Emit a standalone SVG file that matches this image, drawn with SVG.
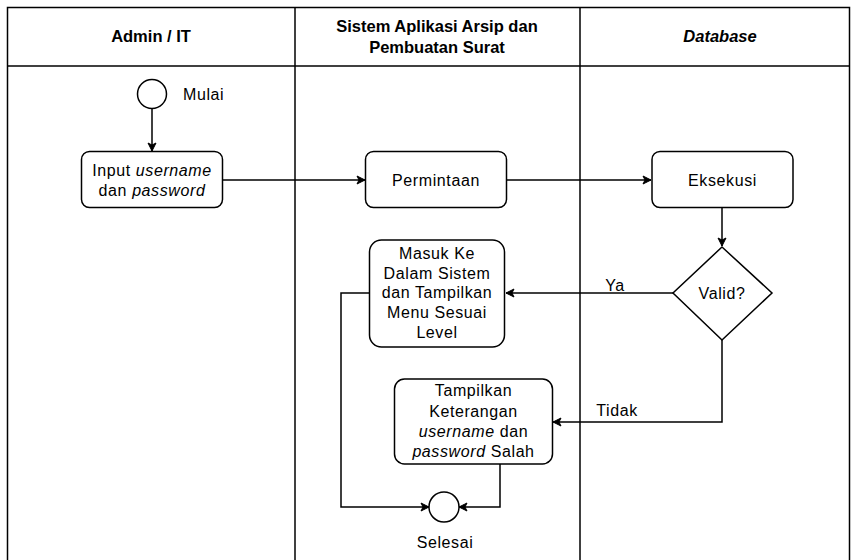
<svg xmlns="http://www.w3.org/2000/svg" width="855" height="560" viewBox="0 0 855 560">
<defs>
<marker id="arr" markerWidth="10" markerHeight="10" refX="9" refY="5" orient="auto" markerUnits="userSpaceOnUse">
<path d="M1,1 L9,5 L1,9 L3,5 z" fill="#000" stroke="#000" stroke-width="1"/>
</marker>
</defs>
<style>
.lane{fill:none;stroke:#000;stroke-width:1.5}
.box{fill:#fff;stroke:#000;stroke-width:1.5}
.edge{fill:none;stroke:#000;stroke-width:1.5}
.t{font-family:"Liberation Sans",Arial,sans-serif;font-size:16px;fill:#000;text-anchor:middle;letter-spacing:0.6px}
.h{font-family:"Liberation Sans",Arial,sans-serif;font-size:16.5px;font-weight:bold;fill:#000;text-anchor:middle}
.i{font-style:italic}
</style>
<rect width="855" height="560" fill="#fff"/>
<g id="lanes">
<rect class="lane" x="7.5" y="7.5" width="842" height="570"/>
<line class="lane" x1="7.5" y1="66" x2="849.5" y2="66"/>
<line class="lane" x1="295" y1="7.5" x2="295" y2="570"/>
<line class="lane" x1="580" y1="7.5" x2="580" y2="570"/>
<text class="h" x="151" y="42">Admin / IT</text>
<text class="h" x="437" y="32">Sistem Aplikasi Arsip dan</text>
<text class="h" x="437" y="53">Pembuatan Surat</text>
<text class="h i" x="720" y="42">Database</text>
</g>
<g id="connectors">
<path class="edge" d="M152,109 L152,151" marker-end="url(#arr)"/>
<path class="edge" d="M223,180 L365,180" marker-end="url(#arr)"/>
<path class="edge" d="M507,180 L651,180" marker-end="url(#arr)"/>
<path class="edge" d="M722,208 L722,246" marker-end="url(#arr)"/>
<path class="edge" d="M673,293 L506,293" marker-end="url(#arr)"/>
<path class="edge" d="M722,340 L722,422 L553,422" marker-end="url(#arr)"/>
<path class="edge" d="M369,293 L341,293 L341,507 L429,507" marker-end="url(#arr)"/>
<path class="edge" d="M500,464 L500,507 L459,507" marker-end="url(#arr)"/>
<text class="t" x="615" y="291">Ya</text>
<text class="t" x="617" y="416">Tidak</text>
</g>
<g id="start">
<circle class="box" cx="152" cy="94" r="14.5"/>
<text class="t" x="183" y="100" style="text-anchor:start">Mulai</text>
</g>
<g id="input">
<rect class="box" x="81.5" y="151.5" width="141" height="56" rx="8"/>
<text class="t" x="152" y="176">Input <tspan class="i">username</tspan></text>
<text class="t" x="152" y="195.5">dan <tspan class="i">password</tspan></text>
</g>
<g id="permintaan">
<rect class="box" x="365.5" y="151.5" width="141" height="56" rx="8"/>
<text class="t" x="436" y="185.5">Permintaan</text>
</g>
<g id="eksekusi">
<rect class="box" x="652" y="151.5" width="141" height="56" rx="8"/>
<text class="t" x="722.5" y="185.5">Eksekusi</text>
</g>
<g id="valid">
<polygon class="box" points="722,247 772,293 722,340 673,293"/>
<text class="t" x="722" y="299">Valid?</text>
</g>
<g id="masuk">
<rect class="box" x="369.5" y="240" width="135" height="107" rx="12"/>
<text class="t" x="437" y="259">Masuk Ke</text>
<text class="t" x="437" y="278.7">Dalam Sistem</text>
<text class="t" x="437" y="298.4">dan Tampilkan</text>
<text class="t" x="437" y="318">Menu Sesuai</text>
<text class="t" x="437" y="337.7">Level</text>
</g>
<g id="tampilkan">
<rect class="box" x="394.5" y="379" width="158" height="85" rx="10"/>
<text class="t" x="473.5" y="396">Tampilkan</text>
<text class="t" x="473.5" y="416.5">Keterangan</text>
<text class="t" x="473.5" y="437"><tspan class="i">username</tspan> dan</text>
<text class="t" x="473.5" y="457"><tspan class="i">password</tspan> Salah</text>
</g>
<g id="end">
<circle class="box" cx="444" cy="507" r="15"/>
<text class="t" x="445" y="548">Selesai</text>
</g>
</svg>
